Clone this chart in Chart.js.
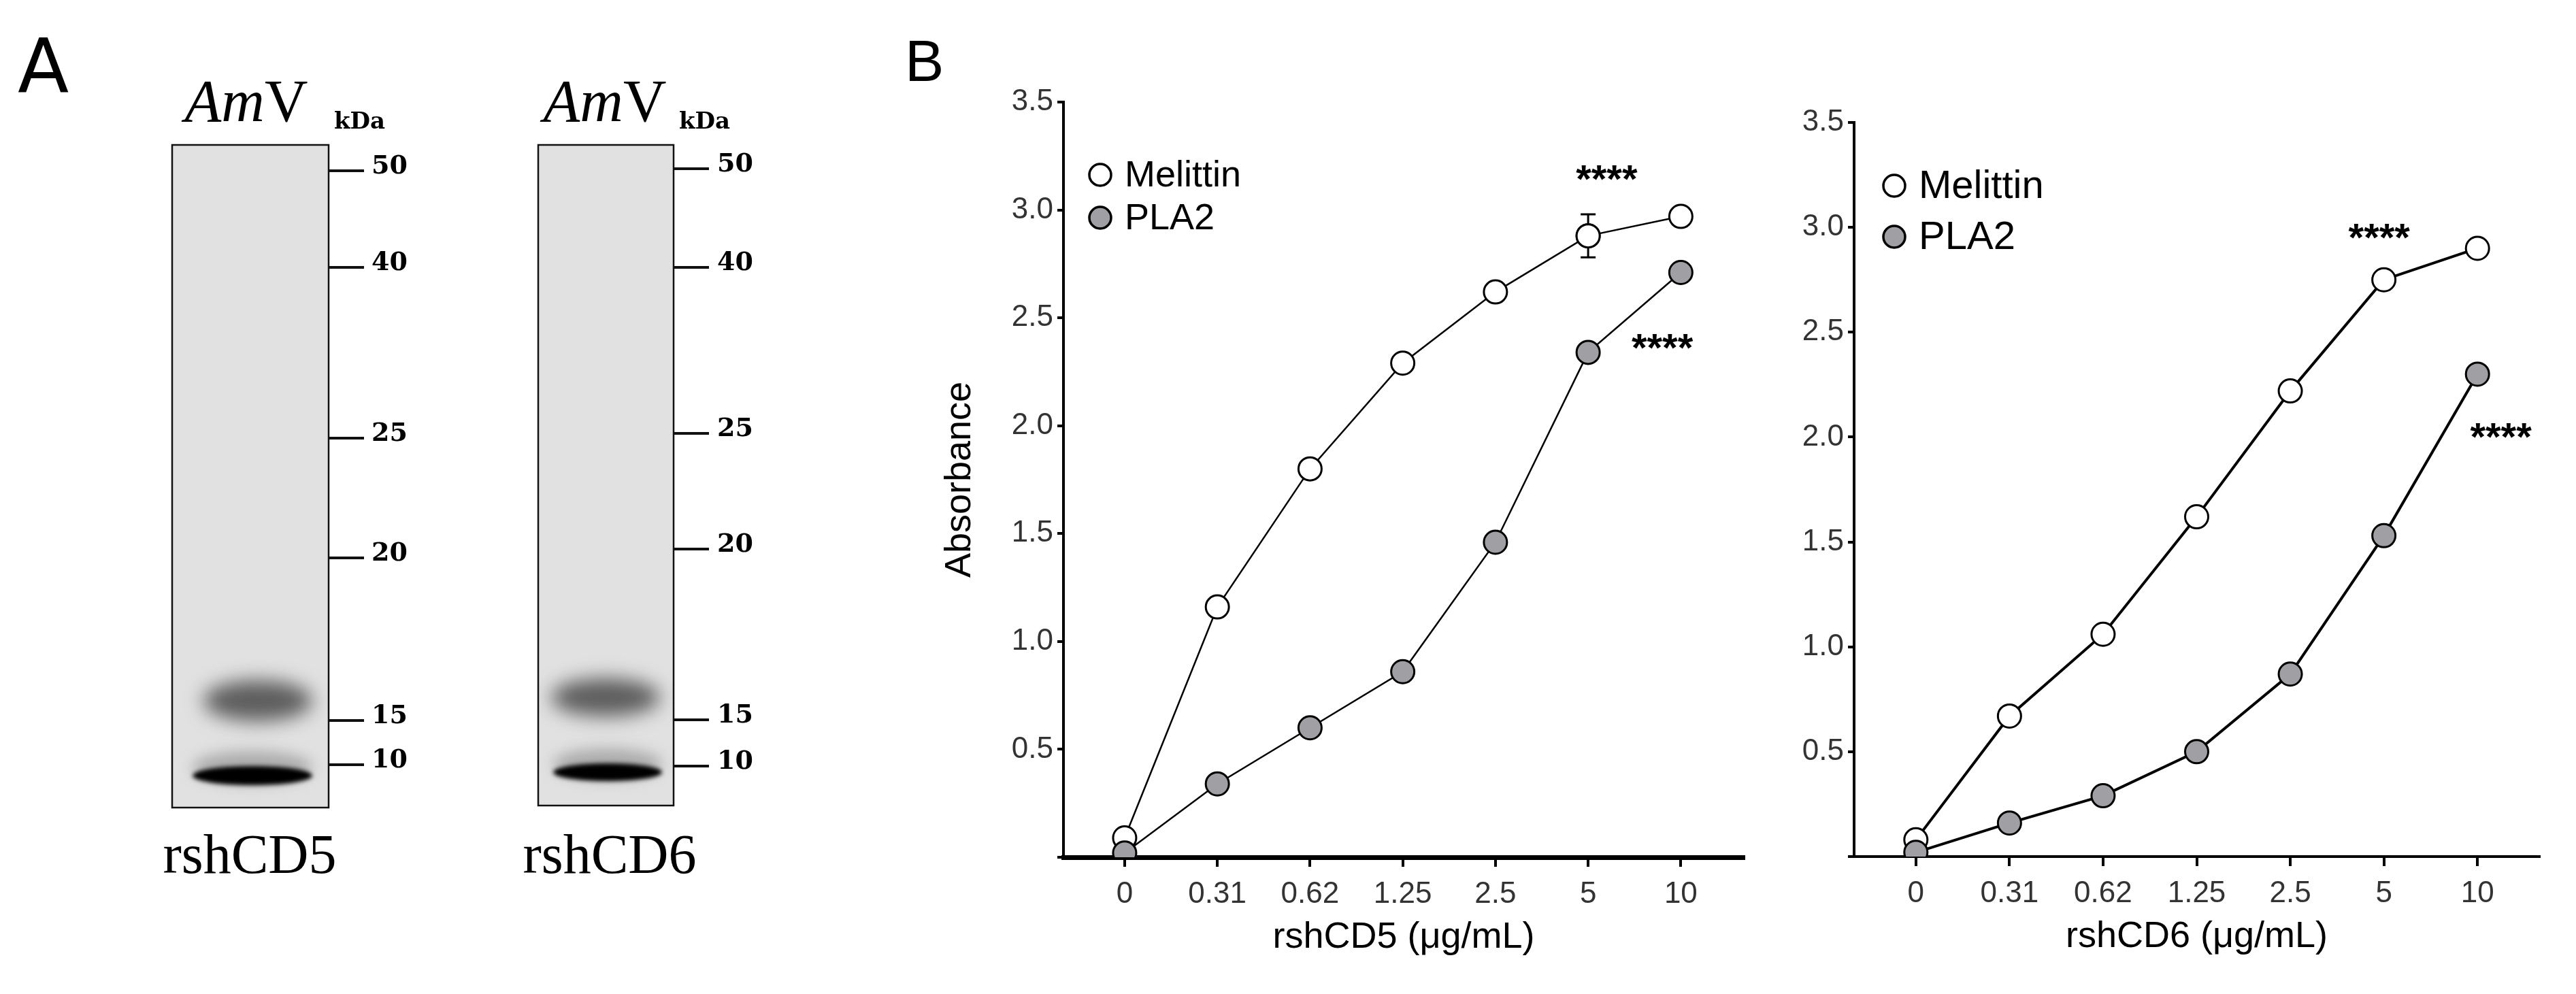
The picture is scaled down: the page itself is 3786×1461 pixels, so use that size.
<!DOCTYPE html>
<html><head><meta charset="utf-8">
<script src="https://cdn.jsdelivr.net/npm/chart.js@4/dist/chart.umd.min.js"></script>
<style>
body{margin:0;background:#fff;width:3786px;height:1461px;position:relative;overflow:hidden}
canvas{position:absolute;top:0}
</style></head><body>
<canvas id="gel" width="1300" height="1461" style="left:0"></canvas>
<canvas id="c1" width="1330" height="1461" style="left:1300px"></canvas>
<canvas id="c2" width="1156" height="1461" style="left:2630px"></canvas>
<script>
const categories = ["0","0.31","0.62","1.25","2.5","5","10"];
const cd5Melittin = [0.09,1.16,1.80,2.29,2.62,2.88,2.97];
const cd5PLA2 = [0.02,0.34,0.60,0.86,1.46,2.34,2.71];
const cd5MelittinErr = [0,0,0,0,0,0.10,0];
const cd6Melittin = [0.08,0.67,1.06,1.62,2.22,2.75,2.90];
const cd6PLA2 = [0.02,0.16,0.29,0.50,0.87,1.53,2.30];
const yTicks = [0.5,1.0,1.5,2.0,2.5,3.0,3.5];
const seriesNames = ["Melittin","PLA2"];
const markerLabels = ["50","40","25","20","15","10"];

// ---- Panel A (gel images) ----
(function(){
  const g=document.getElementById('gel').getContext('2d');
  g.fillStyle='#000';g.font='110px "DejaVu Sans"';g.textBaseline='alphabetic';
  g.fillText('A',26,136);
  function gel(x0,x1,y0,y1,ys,lx,up,lo,cx){
    g.fillStyle='#e1e1e1';g.fillRect(x0,y0,x1-x0,y1-y0);
    g.save();g.beginPath();g.rect(x0,y0,x1-x0,y1-y0);g.clip();
    g.filter='blur(14px)';g.fillStyle='rgba(70,70,70,0.85)';
    g.beginPath();g.ellipse(up[0],up[1],up[2],up[3],0,0,Math.PI*2);g.fill();
    g.filter='blur(10px)';g.fillStyle='rgba(120,120,120,0.5)';
    g.beginPath();g.ellipse(lo[0],lo[1]-12,lo[2],lo[3]+10,0,0,Math.PI*2);g.fill();
    g.filter='blur(3px)';g.fillStyle='#000';
    g.beginPath();g.ellipse(lo[0],lo[1],lo[2],lo[3],0,0,Math.PI*2);g.fill();
    g.restore();g.filter='none';
    g.strokeStyle='#111';g.lineWidth=2.5;g.strokeRect(x0,y0,x1-x0,y1-y0);
    g.lineWidth=4;g.font='bold 38px "DejaVu Serif"';g.textBaseline='middle';g.fillStyle='#000';
    ys.forEach((y,i)=>{g.beginPath();g.moveTo(x1,y);g.lineTo(x1+52,y);g.stroke();g.fillText(markerLabels[i],lx,y-6);});
    g.font='bold 34px "DejaVu Serif"';g.fillText('kDa',x1+8,180);
    g.textBaseline='alphabetic';
    g.font='italic 88px "Liberation Serif"';const w1=g.measureText('Am').width;
    g.font='88px "Liberation Serif"';const w2=g.measureText('V').width;
    let sx=cx-(w1+w2)/2;g.font='italic 88px "Liberation Serif"';g.fillText('Am',sx,178);
    g.font='88px "Liberation Serif"';g.fillText('V',sx+w1,178);
  }
  gel(253,483,213,1187,[251,393,644,820,1059,1124],546,[379,1030,80,30],[371,1140,88,14],362);
  gel(791,990,213,1184,[248,393,637,807,1058,1126],1054,[890,1025,80,28],[893,1135,80,13],889);
  g.font='82px "Liberation Serif"';g.textAlign='center';g.fillStyle='#000';
  g.fillText('rshCD5',367,1283);g.fillText('rshCD6',896,1283);
})();

// ---- Panel B ----
const annot={
 id:'annot',
 afterDraw(ch,a,o){
  const c=ch.ctx,ca=ch.chartArea,xs=ch.scales.x,ys=ch.scales.y;
  c.save();
  // error bars
  (o.err||[]).forEach((e,i)=>{ if(!e) return;
    const x=xs.getPixelForValue(i),yt=ys.getPixelForValue(o.mel[i]+e),yb=ys.getPixelForValue(o.mel[i]-e);
    c.strokeStyle='#000';c.lineWidth=3;c.beginPath();
    c.moveTo(x,yt);c.lineTo(x,yb);c.moveTo(x-11,yt);c.lineTo(x+11,yt);c.moveTo(x-11,yb);c.lineTo(x+11,yb);c.stroke();
    // redraw marker on top
    c.fillStyle='#fff';c.lineWidth=3;c.beginPath();c.arc(x,ys.getPixelForValue(o.mel[i]),17,0,Math.PI*2);c.fill();c.stroke();
  });
  // stars
  c.fillStyle='#000';c.font='bold 58px "Liberation Sans"';c.textAlign='center';c.textBaseline='middle';
  o.stars.forEach(s=>c.fillText('****',xs.getPixelForValue(s[0]),ys.getPixelForValue(s[1])));
  // legend
  c.textAlign='left';c.font=o.legFont+'px "Liberation Sans"';
  seriesNames.forEach((n,i)=>{
    const y=ca.top+o.legY[i],x=ca.left+o.legX;
    c.beginPath();c.arc(x,y,16,0,Math.PI*2);c.fillStyle=i?'#a0a0a4':'#fff';c.fill();
    c.lineWidth=3.5;c.strokeStyle='#000';c.stroke();
    c.fillStyle='#000';c.fillText(n,x+36,y+2);
  });
  // titles
  c.textAlign='center';c.font='54px "Liberation Sans"';
  c.fillText(o.xTitle,(ca.left+ca.right)/2,ca.bottom+118);
  if(o.yTitle){c.translate(ca.left-152,(ca.top+ca.bottom)/2);c.rotate(-Math.PI/2);c.fillText(o.yTitle,0,0);}
  c.restore();
 }
};
function make(id,mel,pla,o){
  const pts=a=>a.map((v,i)=>({x:i,y:v}));
  const ds=(d,fill,lw)=>({data:pts(d),borderColor:'#000',borderWidth:lw,backgroundColor:fill,pointBackgroundColor:fill,
    pointBorderColor:'#000',pointBorderWidth:3,pointRadius:17,tension:0});
  new Chart(document.getElementById(id),{type:'line',
   data:{datasets:[ds(pla,'#a0a0a4',o.lw),ds(mel,'#fff',o.lw)]},
   options:{responsive:false,animation:false,devicePixelRatio:1,
    layout:{padding:{left:0,top:o.top,right:o.right,bottom:0}},
    plugins:{legend:{display:false},tooltip:{enabled:false},annot:o},
    scales:{
     x:{type:'linear',min:o.xmin,max:o.xmax,afterFit:s=>{s.height=o.bottom},
      afterBuildTicks:s=>{s.ticks=categories.map((c,i)=>({value:i}))},
      grid:{display:true,drawOnChartArea:false,drawTicks:true,tickLength:14,color:'#000',lineWidth:4},
      border:{color:'#000',width:o.xb},
      ticks:{callback:(v,i)=>categories[i],font:{family:'Liberation Sans',size:44},color:'#333',padding:14,maxRotation:0}},
     y:{min:0,max:3.5,afterFit:s=>{s.width=o.left},
      afterBuildTicks:s=>{s.ticks=[{value:0}].concat(yTicks.map(v=>({value:v})))},
      grid:{display:true,drawOnChartArea:false,drawTicks:true,tickLength:9,color:'#000',lineWidth:4},
      border:{color:'#000',width:4},
      ticks:{callback:v=>v===0?'':v.toFixed(1),font:{family:'Liberation Sans',size:44},color:'#333',padding:6}}
    }},plugins:[annot]});
}
make('c1',cd5Melittin,cd5PLA2,{top:150,bottom:201,left:263,right:67,xmin:-0.66,xmax:6.68,lw:2.5,xb:7,
  mel:cd5Melittin,err:cd5MelittinErr,stars:[[5.2,3.13],[5.8,2.35]],legX:54,legY:[107,170],legFont:54,
  xTitle:'rshCD5 (\u03bcg/mL)',yTitle:'Absorbance'});
make('c2',cd6Melittin,cd6PLA2,{top:180,bottom:202,left:95,right:54,xmin:-0.66,xmax:6.66,lw:4,xb:4,
  mel:cd6Melittin,err:[],stars:[[4.95,2.94],[6.25,1.99]],legX:59,legY:[93,168],legFont:58,
  xTitle:'rshCD6 (\u03bcg/mL)',yTitle:''});
</script>
<div style="position:absolute;left:1330px;top:40px;font:86px 'Liberation Sans';">B</div>
</body></html>
